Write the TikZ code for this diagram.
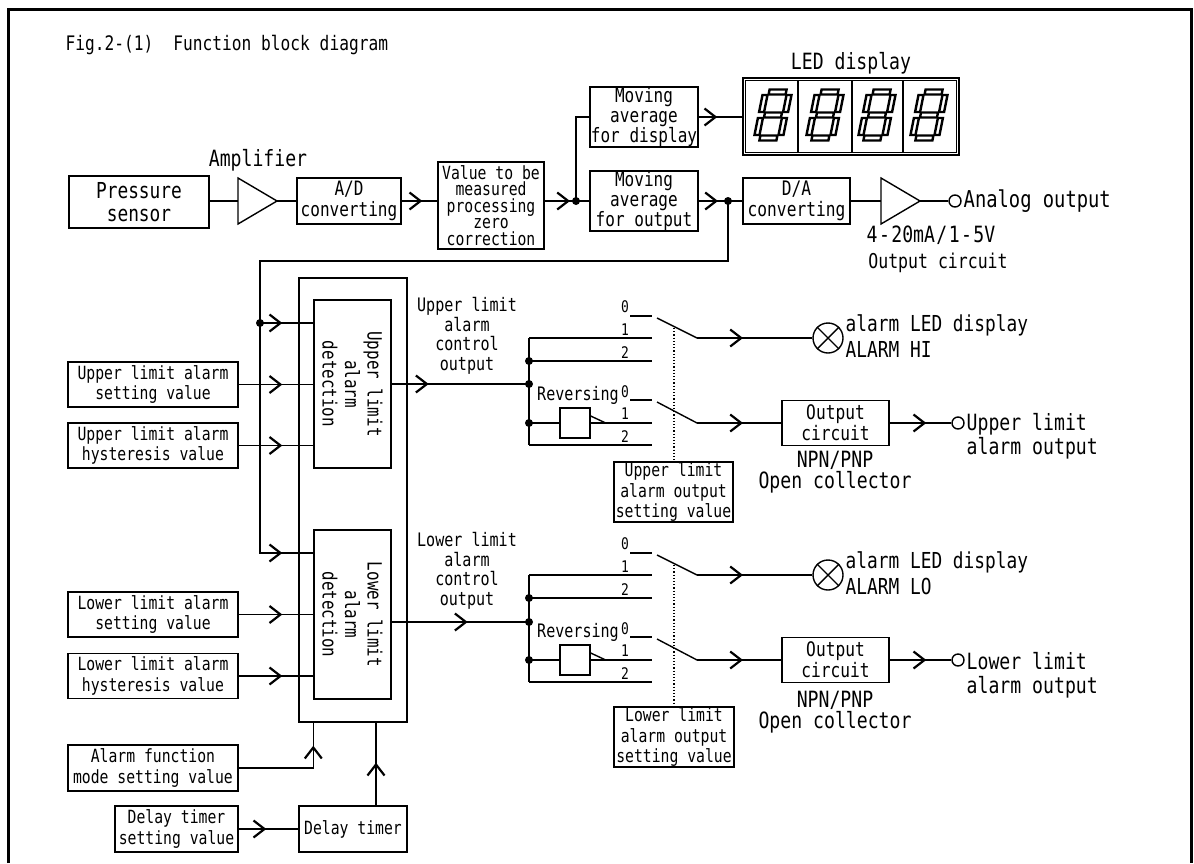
\documentclass[tikz,border=0pt]{standalone}
\usepackage{fontspec}
\setmainfont{DejaVu Sans Mono}[FakeStretch=0.81]
\usetikzlibrary{arrows.meta,decorations.markings}

\tikzset{
  blk/.style={draw,inner sep=0pt,align=center,font=\fontsize{9.1}{10.3}\selectfont},
  lbl/.style={inner sep=0pt,align=center,font=\fontsize{11.2}{12.2}\selectfont},
  txt/.style={inner sep=0pt,align=center,font=\fontsize{9.3}{9.8}\selectfont},
  num/.style={inner sep=0pt,font=\fontsize{8}{8}\selectfont},
  chev/.style={postaction={decorate,decoration={markings,
      mark=at position #1 with {\arrow{Straight Barb[length=5.5pt,width=8.5pt,line width=1.1pt]}}}}},
  lamp/.style={draw,circle,minimum size=15pt,inner sep=0pt},
  term/.style={draw,circle,minimum size=6pt,inner sep=0pt},
}

\begin{document}
\begin{tikzpicture}[x=0.5pt,y=-0.5pt,line width=0.7pt]
    \useasboundingbox (0,0) rectangle (1194,863);
    \draw[line width=1.5pt] (8.5,863) -- (8.5,9) -- (1191.5,9) -- (1191.5,863);
    \node[lbl,anchor=west,font=\fontsize{10}{12}\selectfont] (title) at (65,45) {Fig.2-(1)\hspace{10pt}Function block diagram};

    % measuring chain
    \node[blk,minimum width=70pt,minimum height=26pt,font=\fontsize{11}{11.5}\selectfont] (ps) at (139,202) {Pressure\\sensor};
    \coordinate (amp1in) at (238,201);
    \coordinate (amp1out) at (277,201);
    \draw (238,178) -- (amp1out) -- (238,224) -- cycle;
    \node[lbl] (ampl) at (258,160) {Amplifier};
    \node[blk,minimum width=52pt,minimum height=23pt,font=\fontsize{9.9}{10.5}\selectfont] (ad) at (349,201) {A/D\\converting};
    \node[blk,minimum width=53pt,minimum height=43.5pt,font=\fontsize{9.1}{8.3}\selectfont] (val) at (491,205.5) {Value to be\\measured\\processing\\zero\\correction};
    \coordinate (j1) at (576,201);
    \node[blk,minimum width=54pt,minimum height=30pt,font=\fontsize{9.9}{10}\selectfont] (mvd) at (644,117) {Moving\\average\\for display};
    \node[blk,minimum width=54pt,minimum height=30pt,font=\fontsize{9.9}{10}\selectfont] (mvo) at (644,201) {Moving\\average\\for output};
    \node[draw,minimum width=108pt,minimum height=38.5pt,inner sep=0pt] (led) at (851,116.5) {};
    \node[lbl] (ledl) at (851,63) {LED display};
    \coordinate (j2) at (728,201);
    \node[blk,minimum width=53.5pt,minimum height=23pt,font=\fontsize{10}{10.5}\selectfont] (da) at (796.5,201) {D/A\\converting};
    \coordinate (amp2in) at (881,201);
    \coordinate (amp2out) at (920,201);
    \draw (881,178) -- (amp2out) -- (881,224) -- cycle;
    \node[term] (aout) at (955,201) {};
    \node[lbl,anchor=west,font=\fontsize{11.6}{12}\selectfont] (aoutl) at (963,201) {Analog output};
    \node[lbl] (mal) at (931,235) {4\hspace{0.7pt}-\hspace{0.7pt}20mA\hspace{0.7pt}/\hspace{0.7pt}1\hspace{0.7pt}-\hspace{0.7pt}5V};
    \node[lbl,font=\fontsize{10.2}{12}\selectfont] (ocl) at (938,263) {Output circuit};

    \draw (ps.east |- amp1in) -- (amp1in);
    \draw (amp1out) -- (ad);
    \draw[chev=-7.5pt] (ad) -- (ad -| val.west);
    \draw[chev=-3pt] (val.east |- j1) -- (j1);
    \draw (j1) -- (mvo);
    \draw (j1) |- (mvd);
    \draw[chev=-12.5pt] (mvd.east) -- (mvd.east -| led.west);
    \draw[chev=-5pt] (mvo) -- (j2);
    \draw (j2) -- (da);
    \draw (da) -- (amp2in);
    \draw (amp2out) -- (aout);
    \fill (j1) circle (2pt) (j2) circle (2pt);

    % LED digits
    \draw ([shift={(3,3)}]led.north west) rectangle ([shift={(-3,-3)}]led.south east);
    \foreach \x in {798,852,903} \draw (\x,81) -- (\x,152);
    \foreach \cx in {773,825,877,929} {
      \begin{scope}[shift={(\cx,115)},xslant=0.2,line width=1.2pt]
        \foreach \sy in {-23,0,23} \draw (-8.5,\sy-2.5) rectangle (8.5,\sy+2.5);
        \foreach \sx in {-12,12} \foreach \sy in {-11.5,11.5}
          \draw (\sx-2.5,\sy-8.5) rectangle (\sx+2.5,\sy+8.5);
      \end{scope}
    }

    % alarm detection
    \node[draw,minimum width=54pt,minimum height=222pt,inner sep=0pt] (frm) at (353,500) {};
    \node[draw,minimum width=38.5pt,minimum height=84pt] (udet) at (352.5,384) {};
    \node[txt,rotate=-90,font=\fontsize{9.8}{11.2}\selectfont] (udett) at (udet) {Upper limit\\alarm\\detection};
    \node[draw,minimum width=38.5pt,minimum height=84.5pt] (ldet) at (352.5,614.5) {};
    \node[txt,rotate=-90,font=\fontsize{9.8}{11.2}\selectfont] (ldett) at (ldet) {Lower limit\\alarm\\detection};
    \node[blk,minimum width=85pt,minimum height=22.5pt] (usv) at (153,384.5) {Upper limit alarm\\setting value};
    \node[blk,minimum width=85pt,minimum height=22.5pt] (uhv) at (153,445.5) {Upper limit alarm\\hysteresis value};
    \node[blk,minimum width=85pt,minimum height=22.5pt] (lsv) at (153,614.5) {Lower limit alarm\\setting value};
    \node[blk,minimum width=85pt,minimum height=22.5pt] (lhv) at (153,676) {Lower limit alarm\\hysteresis value};
    \node[blk,minimum width=85pt,minimum height=23pt] (afm) at (153,768) {Alarm function\\mode setting value};
    \node[blk,minimum width=61.5pt,minimum height=23pt] (dts) at (176.5,829) {Delay timer\\setting value};
    \node[blk,minimum width=54pt,minimum height=23pt] (dt) at (353,829) {Delay timer};
    \coordinate (bt) at (260,261);
    \coordinate (bd) at (260,323);
    \coordinate (bb) at (260,553);
    \coordinate (dtu) at (376,806);

    \draw[chev=-15.5pt] (j2) |- (bt) -- (bb) -- (bb -| ldet.west);
    \draw[chev=-15.5pt] (bd) -- (bd -| udet.west);
    \fill (bd) circle (2pt);
    \draw[chev=-15.5pt] (usv) -- (usv -| udet.west);
    \draw[chev=-15.5pt] (uhv) -- (uhv -| udet.west);
    \draw[chev=-15.5pt] (lsv) -- (lsv -| ldet.west);
    \draw[chev=-15.5pt] (lhv) -- (lhv -| ldet.west);
    \draw[chev=-11.5pt] (afm) -| (udet.west |- frm.south);
    \draw[chev=-16pt] (dts) -- (dt);
    \draw[chev=-20pt] (dtu) -- (dtu |- frm.south);

    % upper limit output
    \node[txt] (uco) at (467,336) {Upper limit\\alarm\\control\\output};
    \coordinate (ub1) at (529,338);
    \coordinate (ub2) at (529,361);
    \coordinate (ubi) at (529,384);
    \coordinate (ubr) at (529,423);
    \coordinate (ub3) at (529,445);
    \coordinate (uk0a) at (630,316);
    \coordinate (uk0) at (652,316);
    \coordinate (uk1) at (652,338);
    \coordinate (uk2) at (652,361);
    \coordinate (uj0a) at (630,400);
    \coordinate (uj0) at (652,400);
    \coordinate (uj1) at (652,423);
    \coordinate (uj2) at (652,445);
    \node[draw,minimum size=15pt,inner sep=0pt] (urev) at (575,423) {};
    \node[txt] (urevl) at (578,395) {Reversing};
    \node[num] (un0) at (625,307) {0};
    \node[num] (un1) at (625,330) {1};
    \node[num] (un2) at (625,353) {2};
    \node[num] (um0) at (625,392) {0};
    \node[num] (um1) at (625,414) {1};
    \node[num] (um2) at (625,437) {2};
    \coordinate (us1a) at (657,318);
    \coordinate (us1) at (697,338);
    \coordinate (us2a) at (657,402);
    \coordinate (us2) at (697,423);
    \node[lamp] (ulamp) at (828,338) {};
    \node[lbl,anchor=west,align=left,font=\fontsize{11}{13}\selectfont] (ulampl) at (845,336) {alarm LED display\\ALARM HI};
    \node[blk,minimum width=53.5pt,minimum height=22.5pt,font=\fontsize{10}{10.3}\selectfont] (uout) at (835.5,423) {Output\\circuit};
    \node[lbl,font=\fontsize{11.2}{10.5}\selectfont] (unpn) at (835,472.5) {NPN/PNP\\Open collector};
    \node[term] (uterm) at (958,423) {};
    \node[lbl,anchor=west,align=left,font=\fontsize{11.2}{12}\selectfont] (utl) at (966,436) {Upper limit\\alarm output};
    \node[blk,minimum width=59.5pt,minimum height=30pt] (uset) at (673.5,492) {Upper limit\\alarm output\\setting value};
    \coordinate (udot) at (674,328);

    \draw[chev=18.5pt] (udet) -- (ubi);
    \draw (ub1) -- (ub3);
    \draw (ub1) -- (uk1);
    \draw (ub2) -- (uk2);
    \draw (uk0a) -- (uk0);
    \draw (uj0a) -- (uj0);
    \draw (ub3) -- (uj2);
    \draw (ubr) -- (urev);
    \draw (urev) -- (uj1);
    \draw ([yshift=3.5pt]urev.east) -- ([xshift=7.5pt]urev.east);
    \fill (ub2) circle (2pt) (ubi) circle (2pt) (ubr) circle (2pt);
    \draw (us1a) -- (us1);
    \draw (us2a) -- (us2);
    \draw[chev=23pt] (us1) -- (ulamp);
    \draw (ulamp.north west) -- (ulamp.south east) (ulamp.north east) -- (ulamp.south west);
    \draw[chev=23pt] (us2) -- (uout);
    \draw[chev=-12.5pt] (uout) -- (uterm);
    \draw[densely dotted,line width=0.6pt] (udot) -- (udot |- uset.north);

    % lower limit output
    \node[txt] (lco) at (467,571) {Lower limit\\alarm\\control\\output};
    \coordinate (lb1) at (529,575);
    \coordinate (lb2) at (529,598);
    \coordinate (lbi) at (529,622);
    \coordinate (lbr) at (529,660);
    \coordinate (lb3) at (529,682);
    \coordinate (lk0a) at (630,553);
    \coordinate (lk0) at (652,553);
    \coordinate (lk1) at (652,575);
    \coordinate (lk2) at (652,598);
    \coordinate (lj0a) at (630,637);
    \coordinate (lj0) at (652,637);
    \coordinate (lj1) at (652,660);
    \coordinate (lj2) at (652,682);
    \node[draw,minimum size=15pt,inner sep=0pt] (lrev) at (575,660) {};
    \node[txt] (lrevl) at (578,632) {Reversing};
    \node[num] (ln0) at (625,544) {0};
    \node[num] (ln1) at (625,567) {1};
    \node[num] (ln2) at (625,590) {2};
    \node[num] (lm0) at (625,629) {0};
    \node[num] (lm1) at (625,651) {1};
    \node[num] (lm2) at (625,674) {2};
    \coordinate (ls1a) at (657,555);
    \coordinate (ls1) at (697,575);
    \coordinate (ls2a) at (657,639);
    \coordinate (ls2) at (697,660);
    \node[lamp] (llamp) at (828,575) {};
    \node[lbl,anchor=west,align=left,font=\fontsize{11}{13}\selectfont] (llampl) at (845,573.5) {alarm LED display\\ALARM LO};
    \node[blk,minimum width=53.5pt,minimum height=22.5pt,font=\fontsize{10}{10.3}\selectfont] (lout) at (835.5,660) {Output\\circuit};
    \node[lbl,font=\fontsize{11.2}{10.5}\selectfont] (lnpn) at (835,712.5) {NPN/PNP\\Open collector};
    \node[term] (lterm) at (958,660) {};
    \node[lbl,anchor=west,align=left,font=\fontsize{11.2}{12}\selectfont] (ltl) at (966,675) {Lower limit\\alarm output};
    \node[blk,minimum width=60pt,minimum height=30pt] (lset) at (674,737) {Lower limit\\alarm output\\setting value};
    \coordinate (ldot) at (674,565);

    \draw[chev=38pt] (ldet.east |- lbi) -- (lbi);
    \draw (lb1) -- (lb3);
    \draw (lb1) -- (lk1);
    \draw (lb2) -- (lk2);
    \draw (lk0a) -- (lk0);
    \draw (lj0a) -- (lj0);
    \draw (lb3) -- (lj2);
    \draw (lbr) -- (lrev);
    \draw (lrev) -- (lj1);
    \draw ([yshift=3.5pt]lrev.east) -- ([xshift=7.5pt]lrev.east);
    \fill (lb2) circle (2pt) (lbi) circle (2pt) (lbr) circle (2pt);
    \draw (ls1a) -- (ls1);
    \draw (ls2a) -- (ls2);
    \draw[chev=23pt] (ls1) -- (llamp);
    \draw (llamp.north west) -- (llamp.south east) (llamp.north east) -- (llamp.south west);
    \draw[chev=23pt] (ls2) -- (lout);
    \draw[chev=-12.5pt] (lout) -- (lterm);
    \draw[densely dotted,line width=0.6pt] (ldot) -- (ldot |- lset.north);
\end{tikzpicture}
\end{document}
